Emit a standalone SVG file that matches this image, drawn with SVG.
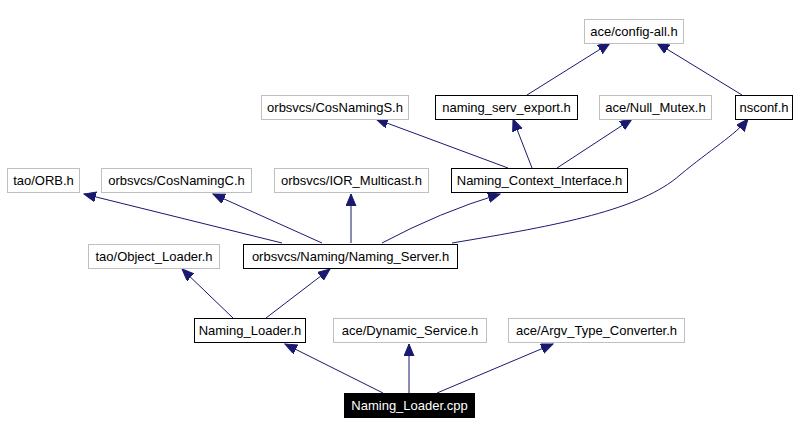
<svg xmlns="http://www.w3.org/2000/svg" width="798" height="435" viewBox="0 0 798 435">
<style>
.n rect{fill:#fff;stroke-width:1}
.g rect{stroke:#bfbfbf}
.b rect{stroke:#000}
.r rect{fill:#000;stroke:#000}
text{font-family:"Liberation Sans",Arial,sans-serif;font-size:13px;text-anchor:middle;fill:#000}
.r text{fill:#fff}
.e path{fill:none;stroke:#191970;stroke-width:1}
</style>
<defs>
<marker id="a" markerUnits="userSpaceOnUse" markerWidth="13" markerHeight="11" refX="12" refY="5" orient="auto">
<path d="M0,0 L12,5 L0,10 z" fill="#191970" stroke="#191970"/>
</marker>
</defs>
<rect width="798" height="435" fill="#fff"/>
<g class="e">
<path d="M383,393 L285,344" marker-end="url(#a)"/>
<path d="M409,393 L409,344" marker-end="url(#a)"/>
<path d="M437,393 L553,344" marker-end="url(#a)"/>
<path d="M233,318 L182,269" marker-end="url(#a)"/>
<path d="M266,318 L330,269" marker-end="url(#a)"/>
<path d="M282,243 L84,194" marker-end="url(#a)"/>
<path d="M322,243 L213,194" marker-end="url(#a)"/>
<path d="M351,243 L351,194" marker-end="url(#a)"/>
<path d="M382,243 Q440,212 500,194" marker-end="url(#a)"/>
<path d="M452,243 C560,225 640,210 680,175 C710,150 735,135 748,119" marker-end="url(#a)"/>
<path d="M508,168 L376,119" marker-end="url(#a)"/>
<path d="M532,168 L513,119" marker-end="url(#a)"/>
<path d="M557,168 L632,119" marker-end="url(#a)"/>
<path d="M527,95 L610,43" marker-end="url(#a)"/>
<path d="M742,95 L657,43" marker-end="url(#a)"/>
</g>
<g id="config_all" class="n g"><rect x="584.5" y="19.5" width="99" height="24"/><text x="634" y="36">ace/config-all.h</text></g>
<g id="cosnamings" class="n g"><rect x="261.5" y="95.5" width="147" height="24"/><text x="335" y="112">orbsvcs/CosNamingS.h</text></g>
<g id="naming_serv_export" class="n b"><rect x="435.5" y="95.5" width="142" height="24"/><text x="506.5" y="112">naming_serv_export.h</text></g>
<g id="null_mutex" class="n g"><rect x="599.5" y="95.5" width="112" height="24"/><text x="655.5" y="112">ace/Null_Mutex.h</text></g>
<g id="nsconf" class="n b"><rect x="735.5" y="95.5" width="57" height="24"/><text x="764" y="112">nsconf.h</text></g>
<g id="orb" class="n g"><rect x="7.5" y="168.5" width="72" height="24"/><text x="43.5" y="185">tao/ORB.h</text></g>
<g id="cosnamingc" class="n g"><rect x="101.5" y="168.5" width="150" height="24"/><text x="176.5" y="185">orbsvcs/CosNamingC.h</text></g>
<g id="ior_multicast" class="n g"><rect x="274.5" y="168.5" width="154" height="24"/><text x="351.5" y="185">orbsvcs/IOR_Multicast.h</text></g>
<g id="naming_context_interface" class="n b"><rect x="451.5" y="168.5" width="176" height="24"/><text x="539.5" y="185">Naming_Context_Interface.h</text></g>
<g id="object_loader" class="n g"><rect x="88.5" y="244.5" width="131" height="24"/><text x="154" y="261">tao/Object_Loader.h</text></g>
<g id="naming_server" class="n b"><rect x="243.5" y="244.5" width="214" height="24"/><text x="350.5" y="261">orbsvcs/Naming/Naming_Server.h</text></g>
<g id="naming_loader_h" class="n b"><rect x="194.5" y="318.5" width="111" height="24"/><text x="250" y="335">Naming_Loader.h</text></g>
<g id="dynamic_service" class="n g"><rect x="333.5" y="318.5" width="153" height="24"/><text x="410" y="335">ace/Dynamic_Service.h</text></g>
<g id="argv_type_converter" class="n g"><rect x="508.5" y="318.5" width="176" height="24"/><text x="596.5" y="335">ace/Argv_Type_Converter.h</text></g>
<g id="naming_loader_cpp" class="n r"><rect x="344.5" y="393.5" width="130" height="24"/><text x="409.5" y="410">Naming_Loader.cpp</text></g>
</svg>
